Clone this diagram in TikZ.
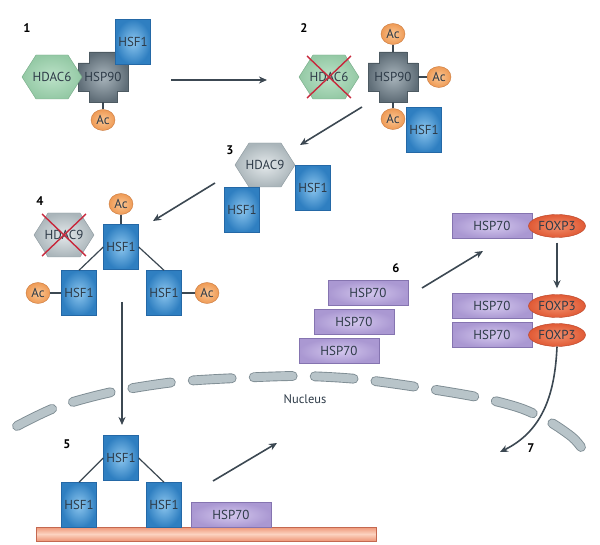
\documentclass[tikz,border=0pt]{standalone}
\usepackage{fontspec}
\setmainfont{PT Sans}
\usetikzlibrary{shapes.geometric,arrows.meta}
\definecolor{txt}{HTML}{2E3B48}
\definecolor{arrcol}{HTML}{3C4852}
\definecolor{hsfin}{HTML}{8CC6EE}
\definecolor{hsfout}{HTML}{2F7FC1}
\definecolor{hsfedge}{HTML}{2468A6}
\definecolor{ninein}{HTML}{A9B5BC}
\definecolor{nineout}{HTML}{5F6D77}
\definecolor{nineedge}{HTML}{4D5A62}
\definecolor{sixin}{HTML}{BCE2C8}
\definecolor{sixout}{HTML}{94C9A5}
\definecolor{sixedge}{HTML}{74A985}
\definecolor{dacin}{HTML}{E4E9EB}
\definecolor{dacout}{HTML}{AAB5BA}
\definecolor{dacedge}{HTML}{8A969C}
\definecolor{acin}{HTML}{FBC693}
\definecolor{acout}{HTML}{EE9A55}
\definecolor{acedge}{HTML}{C9773A}
\definecolor{seventyin}{HTML}{D4C8EE}
\definecolor{seventyout}{HTML}{AA98D2}
\definecolor{seventyedge}{HTML}{8574B0}
\definecolor{foxin}{HTML}{F28F6C}
\definecolor{foxout}{HTML}{E05A35}
\definecolor{foxedge}{HTML}{B8452A}
\definecolor{dnain}{HTML}{FCD3C0}
\definecolor{dnaout}{HTML}{EE9677}
\definecolor{dnaedge}{HTML}{C46850}
\definecolor{nucfill}{HTML}{B8C4C9}
\definecolor{nucedge}{HTML}{7E8C93}
\definecolor{nored}{HTML}{C8283C}

\tikzset{
  every node/.style={text=txt, font=\fontsize{13}{15}\selectfont},
  hsf/.style={draw=hsfedge, inner color=hsfin, outer color=hsfout,
    minimum width=35pt, minimum height=45pt, inner sep=0pt},
  hsp/.style={draw=seventyedge, inner color=seventyin, outer color=seventyout,
    minimum width=80pt, minimum height=25pt, inner sep=0pt},
  ac/.style={ellipse, draw=acedge, inner color=acin, outer color=acout,
    minimum width=24pt, minimum height=21pt, inner sep=0pt},
  fox/.style={ellipse, draw=foxedge, inner color=foxin, outer color=foxout,
    minimum width=57pt, minimum height=23pt, inner sep=0pt},
  hdacsix/.style={draw=sixedge, inner color=sixin, outer color=sixout},
  hdacnine/.style={draw=dacedge, inner color=dacin, outer color=dacout},
  nineties/.style={draw=nineedge, inner color=ninein, outer color=nineout},
  num/.style={text=black, font=\bfseries\fontsize{12.5}{14}\selectfont},
  link/.style={draw=arrcol, line width=1.2pt},
  arr/.style={draw=arrcol, line width=1.6pt, -{Stealth[length=8pt,width=7pt,inset=2.5pt]}},
  nox/.style={draw=nored, line width=1.4pt},
  nuc/.style={draw=nucedge, double=nucfill, double distance=8pt, line width=0.9pt,
    line cap=round, dash pattern=on 39pt off 22pt}
}

% hexagon: name, centre, colour style, text
\newcommand{\hexnode}[4]{%
  \path[#3] (#2) ++(-30,0) -- ++(14,-22) -- ++(32,0) -- ++(14,22)
    -- ++(-14,22) -- ++(-32,0) -- cycle;
  \node[minimum width=60pt, minimum height=44pt, inner sep=0pt] (#1) at (#2) {#4};}
% HSP90 cross: name, centre, text
\newcommand{\crossnode}[3]{%
  \path[nineties] (#2) ++(-25,-14) -- ++(11,0) -- ++(0,-11) -- ++(28,0)
    -- ++(0,11) -- ++(11,0) -- ++(0,28) -- ++(-11,0) -- ++(0,11)
    -- ++(-28,0) -- ++(0,-11) -- ++(-11,0) -- cycle;
  \node[minimum width=50pt, minimum height=49pt, inner sep=0pt] (#1) at (#2) {#3};}
% red cross over an HDAC
\newcommand{\noway}[1]{%
  \draw[nox] ([shift={(-22,-21)}]#1.center) -- ([shift={(22,21)}]#1.center);
  \draw[nox] ([shift={(-22,21)}]#1.center) -- ([shift={(22,-21)}]#1.center);}

\begin{document}
\begin{tikzpicture}[x=1pt,y=-1pt]
  \useasboundingbox (0,0) rectangle (600,545);

  % 1
  \node[num] (n1) at (27,28) {1};
  \crossnode{hspA}{103,77}{HSP90}
  \hexnode{hdacA}{52,77}{hdacsix}{HDAC6}
  \node[hsf] (hsfA) at (133,42) {HSF1};
  \node[ac] (acA) at (103,120) {Ac};
  \draw[link] (hspA) -- (acA);
  \coordinate (s1) at (171,80);
  \coordinate (e1) at (267,80);
  \draw[arr] (s1) -- (e1);

  % 2
  \node[num] (n2) at (304,28) {2};
  \hexnode{hdacB}{329,77}{hdacsix}{HDAC6}
  \noway{hdacB}
  \crossnode{hspB}{393,77}{HSP90}
  \node[ac] (acB1) at (393,34) {Ac};
  \node[ac] (acB2) at (439,77) {Ac};
  \node[ac] (acB3) at (393,119) {Ac};
  \node[hsf] (hsfB) at (424,130) {HSF1};
  \draw[link] (hspB) -- (acB1);
  \draw[link] (hspB) -- (acB2);
  \draw[link] (hspB) -- (acB3);
  \coordinate (s2) at (362,107);
  \coordinate (e2) at (300,145);
  \draw[arr] (s2) -- (e2);

  % 3
  \node[num] (n3) at (230,150) {3};
  \hexnode{hdacC}{265,165}{hdacnine}{HDAC9}
  \node[hsf] (hsfC1) at (242,210) {HSF1};
  \node[hsf] (hsfC2) at (313,188) {HSF1};
  \coordinate (s3) at (215,183);
  \coordinate (e3) at (153,221);
  \draw[arr] (s3) -- (e3);

  % 4
  \node[num] (n4) at (40,201) {4};
  \hexnode{hdacD}{64,235}{hdacnine}{HDAC9}
  \noway{hdacD}
  \node[hsf] (hsfD1) at (121,247) {HSF1};
  \node[hsf] (hsfD2) at (79,293) {HSF1};
  \node[hsf] (hsfD3) at (164,293) {HSF1};
  \node[ac] (acD1) at (121,204) {Ac};
  \node[ac] (acD2) at (38,293) {Ac};
  \node[ac] (acD3) at (207,293) {Ac};
  \draw[link] (acD1) -- (hsfD1);
  \draw[link] (acD2) -- (hsfD2);
  \draw[link] (hsfD3) -- (acD3);
  \draw[link] (hsfD1.west) -- (hsfD2.north);
  \draw[link] (hsfD1.east) -- (hsfD3.north);
  \coordinate (s4) at (122,302);
  \coordinate (e4) at (122,425);
  \draw[arr] (s4) -- (e4);

  % nucleus
  \draw[nuc] plot[smooth] coordinates {(17,426) (57,407) (112,392) (175,382)
    (237,378) (300,376) (357,379) (417,387) (477,397) (520,408) (550,422)
    (572,437) (581,447)};
  \node (nucleus) at (305,399) {\fontsize{12.5}{14}\selectfont Nucleus};

  % 5
  \node[num] (n5) at (67,444) {5};
  \node[draw=dnaedge, top color=dnaout, bottom color=dnaout, middle color=dnain,
    minimum width=340pt, minimum height=14pt, inner sep=0pt] (dna) at (206,534) {};
  \node[hsf] (hsfE1) at (121,458) {HSF1};
  \node[hsf] (hsfE2) at (79,505) {HSF1};
  \node[hsf] (hsfE3) at (164,505) {HSF1};
  \node[hsp] (hspE) at (231,515) {HSP70};
  \draw[link] (hsfE1.west) -- (hsfE2.north);
  \draw[link] (hsfE1.east) -- (hsfE3.north);
  \coordinate (s5) at (213,481);
  \coordinate (e5) at (277,443);
  \draw[arr] (s5) -- (e5);

  % 6
  \node[num] (n6) at (396,268) {6};
  \node[hsp] (hspF1) at (368,293) {HSP70};
  \node[hsp] (hspF2) at (354,322) {HSP70};
  \node[hsp] (hspF3) at (339,351) {HSP70};
  \coordinate (s6) at (422,288);
  \coordinate (e6) at (483,251);
  \draw[arr] (s6) -- (e6);

  \node[hsp] (hspG1) at (492,226) {HSP70};
  \node[fox] (foxG1) at (557,226) {FOXP3};
  \node[hsp] (hspG2) at (492,306) {HSP70};
  \node[fox] (foxG2) at (557,306) {FOXP3};
  \node[hsp] (hspG3) at (492,335) {HSP70};
  \node[fox] (foxG3) at (557,335) {FOXP3};
  \draw[arr, shorten <=5pt, shorten >=6pt] (foxG1) -- (foxG2);

  % 7
  \node[num] (n7) at (531,448) {7};
  \coordinate (e7) at (500,452);
  \draw[arr] (foxG3.south) .. controls (555,390) and (545,430) .. (e7);
\end{tikzpicture}
\end{document}
